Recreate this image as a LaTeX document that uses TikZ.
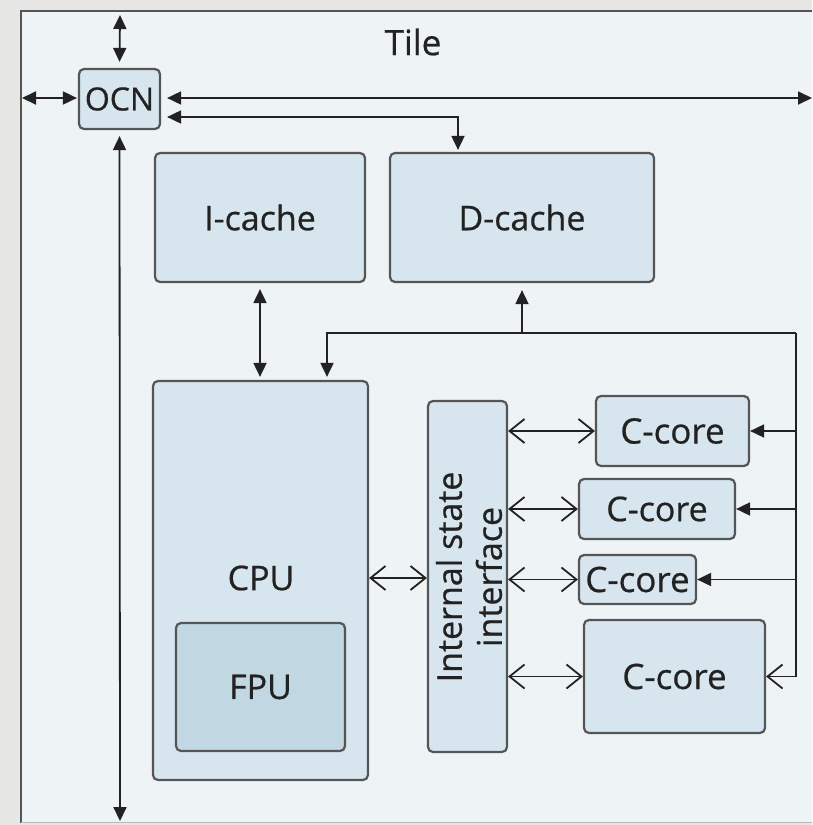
\documentclass[tikz,border=0pt]{standalone}
\usepackage{fontspec}
\setmainfont{Open Sans}[FakeBold=0.6]
\usetikzlibrary{arrows.meta,calc}
\definecolor{bggray}{HTML}{E6E6E4}
\definecolor{tilefill}{HTML}{EEF3F6}
\definecolor{boxfill}{HTML}{D7E6EE}
\definecolor{fpufill}{HTML}{C1D8E3}
\definecolor{edge}{HTML}{555555}
\definecolor{ink}{HTML}{222222}
\begin{document}
\begin{tikzpicture}[x=1pt,y=-1pt,
  blk/.style={draw=edge, fill=boxfill, line width=2.2pt, rounded corners=5pt, inner sep=0pt, text=ink},
  lbl/.style={text=ink, font=\fontsize{35}{40}\selectfont},
  wire/.style={draw=ink, line width=1.8pt},
  fa/.style={wire, -{Triangle[length=14pt,width=13pt]}},
  fb/.style={wire, {Triangle[length=14pt,width=13pt]}-{Triangle[length=14pt,width=13pt]}},
  oa/.style={wire, -{Straight Barb[length=15pt,width=24pt,line width=1.8pt]}},
  ob/.style={wire, {Straight Barb[length=15pt,width=24pt,line width=1.8pt]}-{Straight Barb[length=15pt,width=24pt,line width=1.8pt]}},
]
\useasboundingbox (0,0) rectangle (812,825);
\fill[bggray] (0,0) rectangle (812,825);
\fill[tilefill] (21,11) rectangle (812,822);
\draw[edge, line width=2.5pt] (21,823) -- (21,11) -- (812,11);
\draw[gray!55, line width=1.5pt] (21,822.5) -- (812,822.5);

\node[lbl] (tile) at (413,42) {Tile};

% boxes
\node[blk, minimum width=81pt, minimum height=60pt, font=\fontsize{32}{38}\selectfont] (ocn) at (119.5,99) {OCN};
\node[blk, minimum width=210pt, minimum height=129pt, font=\fontsize{34}{40}\selectfont] (icache) at (260,217.5) {I-cache};
\node[blk, minimum width=264pt, minimum height=129pt, font=\fontsize{34}{40}\selectfont] (dcache) at (522,217.5) {D-cache};
\node[blk, minimum width=215pt, minimum height=399pt] (cpu) at (260.5,580.5) {};
\node[lbl, font=\fontsize{34}{40}\selectfont] (cpulbl) at (261,578) {CPU};
\node[blk, fill=fpufill, minimum width=169pt, minimum height=128pt, font=\fontsize{34}{40}\selectfont] (fpu) at (260.5,687) {FPU};
\node[blk, minimum width=79pt, minimum height=351pt] (isi) at (467.5,576.5) {};
\node[lbl, rotate=90, align=center, font=\fontsize{34}{40}\selectfont] (isilbl) at (469,577) {Internal state\\interface};
\node[blk, minimum width=153pt, minimum height=70pt, font=\fontsize{35}{40}\selectfont] (cc1) at (672.5,431) {C-core};
\node[blk, minimum width=156pt, minimum height=60pt, font=\fontsize{34}{40}\selectfont] (cc2) at (657,509) {C-core};
\node[blk, minimum width=117pt, minimum height=49pt, font=\fontsize{35}{40}\selectfont] (cc3) at (637.5,579.5) {C-core};
\node[blk, minimum width=181pt, minimum height=113pt, font=\fontsize{35}{40}\selectfont] (cc4) at (674.5,676.5) {C-core};

% free ends and corners
\coordinate (ntop) at (120,15);
\coordinate (nleft) at (22,98);
\coordinate (nright) at (812,98);
\coordinate (nbot) at (120,821);
\coordinate (dturn) at (458,117);
\coordinate (bus) at (522,333);
\coordinate (busL) at (327,333);
\coordinate (busR) at (796,333);

% OCN connections
\draw[fb, shorten <=6pt] (ocn.north) -- (ntop);
\draw[fb, shorten >=1pt] (nleft) -- (ocn.west |- nleft);
\draw[fb, shorten <=6pt] (ocn.east |- nright) -- (nright);
\draw[fb, shorten <=6pt, shorten >=2pt] (ocn.east |- dturn) -- (dturn) -- (dturn |- dcache.north);
\draw[fb, shorten <=6pt] (ocn.south) -- (nbot);

% caches
\draw[fb, shorten <=6pt, shorten >=3pt] (icache.south) -- (cpu.north -| icache.south);
\draw[fa, shorten >=7pt] (bus) -- (bus |- dcache.south);
\draw[fa, shorten >=3pt] (busR) -- (busL) -- (busL |- cpu.north);
\draw[oa] (busR) -- (busR |- cc4.east) -- (cc4.east);
\draw[fa] (busR |- cc1.east) -- (cc1.east);
\draw[fa] (busR |- cc2.east) -- (cc2.east);
\draw[fa] (busR |- cc3.east) -- (cc3.east);

% internal state interface
\draw[ob] (cpu.east |- cpulbl) -- (isi.west |- cpulbl);
\draw[ob] (isi.east |- cc1) -- (cc1.west);
\draw[ob] (isi.east |- cc2) -- (cc2.west);
\draw[ob] (isi.east |- cc3) -- (cc3.west);
\draw[ob] (isi.east |- cc4) -- (cc4.west);
\end{tikzpicture}
\end{document}
